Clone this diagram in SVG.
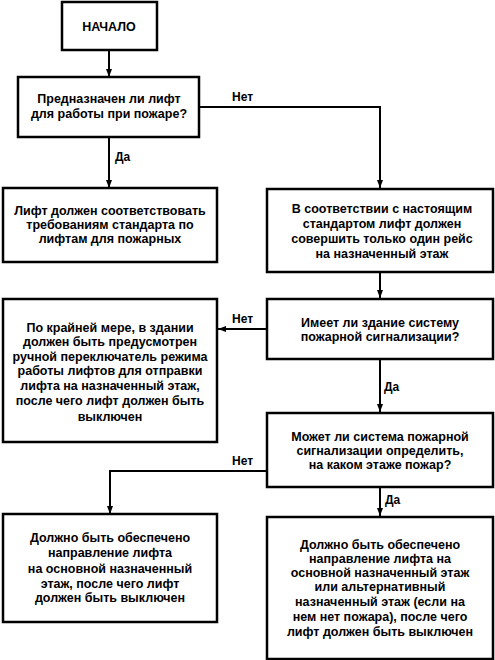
<svg xmlns="http://www.w3.org/2000/svg" width="495" height="660" viewBox="0 0 495 660">
<defs>
<style>
.box{fill:#fff;stroke:#000;stroke-width:2.5}
.t{font-family:"Liberation Sans",Arial,sans-serif;font-size:12.5px;font-weight:bold;text-anchor:middle;fill:#000}
.lbl{font-family:"Liberation Sans",Arial,sans-serif;font-size:12px;font-weight:bold;fill:#000}
.ln{fill:none;stroke:#000;stroke-width:2}
</style>
<marker id="ah" markerWidth="8" markerHeight="6" refX="8" refY="3" orient="auto" markerUnits="userSpaceOnUse">
<path d="M0,0 L8,3 L0,6 Z" fill="#000"/>
</marker>
</defs>
<rect width="495" height="660" fill="#fff"/>
<g id="connectors">
<path class="ln" d="M109,50 V77" marker-end="url(#ah)"/>
<path class="ln" d="M199,107 H380 V188" marker-end="url(#ah)"/>
<path class="ln" d="M109,137 V188" marker-end="url(#ah)"/>
<path class="ln" d="M380,272 V298" marker-end="url(#ah)"/>
<path class="ln" d="M267,329 H218" marker-end="url(#ah)"/>
<path class="ln" d="M380,359 V412" marker-end="url(#ah)"/>
<path class="ln" d="M267,471 H110 V514" marker-end="url(#ah)"/>
<path class="ln" d="M380,487 V516" marker-end="url(#ah)"/>
<text class="lbl" x="232" y="101">Нет</text>
<text class="lbl" x="115" y="161">Да</text>
<text class="lbl" x="232" y="323">Нет</text>
<text class="lbl" x="384" y="391">Да</text>
<text class="lbl" x="232" y="465">Нет</text>
<text class="lbl" x="385" y="504">Да</text>
</g>
<g id="start">
<rect class="box" x="62" y="2" width="95" height="48"/>
<text class="t" x="109" y="31">НАЧАЛО</text>
</g>
<g id="q1">
<rect class="box" x="18" y="77" width="181" height="60"/>
<text class="t" x="109" y="103">Предназначен ли лифт</text>
<text class="t" x="109" y="118">для работы при пожаре?</text>
</g>
<g id="yes1">
<rect class="box" x="3" y="188" width="214" height="74"/>
<text class="t" x="110" y="215">Лифт должен соответствовать</text>
<text class="t" x="110" y="229">требованиям стандарта по</text>
<text class="t" x="110" y="243">лифтам для пожарных</text>
</g>
<g id="no1">
<rect class="box" x="267" y="189" width="226" height="83"/>
<text class="t" x="382" y="213">В соответствии с настоящим</text>
<text class="t" x="382" y="228">стандартом лифт должен</text>
<text class="t" x="382" y="243">совершить только один рейс</text>
<text class="t" x="382" y="258">на назначенный этаж</text>
</g>
<g id="q2">
<rect class="box" x="267" y="299" width="226" height="60"/>
<text class="t" x="380" y="327">Имеет ли здание систему</text>
<text class="t" x="380" y="341">пожарной сигнализации?</text>
</g>
<g id="no2">
<rect class="box" x="3" y="299" width="214" height="143"/>
<text class="t" x="110" y="332">По крайней мере, в здании</text>
<text class="t" x="110" y="346">должен быть предусмотрен</text>
<text class="t" x="110" y="361">ручной переключатель режима</text>
<text class="t" x="110" y="375">работы лифтов для отправки</text>
<text class="t" x="110" y="390">лифта на назначенный этаж,</text>
<text class="t" x="110" y="405">после чего лифт должен быть</text>
<text class="t" x="110" y="421">выключен</text>
</g>
<g id="q3">
<rect class="box" x="267" y="413" width="226" height="74"/>
<text class="t" x="380" y="441">Может ли система пожарной</text>
<text class="t" x="380" y="455">сигнализации определить,</text>
<text class="t" x="380" y="469">на каком этаже пожар?</text>
</g>
<g id="no3">
<rect class="box" x="3" y="514" width="214" height="108"/>
<text class="t" x="110" y="542">Должно быть обеспечено</text>
<text class="t" x="110" y="557">направление лифта</text>
<text class="t" x="110" y="573">на основной назначенный</text>
<text class="t" x="110" y="588">этаж, после чего лифт</text>
<text class="t" x="110" y="602">должен быть выключен</text>
</g>
<g id="yes3">
<rect class="box" x="267" y="517" width="226" height="142"/>
<text class="t" x="380" y="549">Должно быть обеспечено</text>
<text class="t" x="380" y="563">направление лифта на</text>
<text class="t" x="380" y="577">основной назначенный этаж</text>
<text class="t" x="380" y="591">или альтернативный</text>
<text class="t" x="380" y="606">назначенный этаж (если на</text>
<text class="t" x="380" y="621">нем нет пожара), после чего</text>
<text class="t" x="380" y="636">лифт должен быть выключен</text>
</g>
</svg>
